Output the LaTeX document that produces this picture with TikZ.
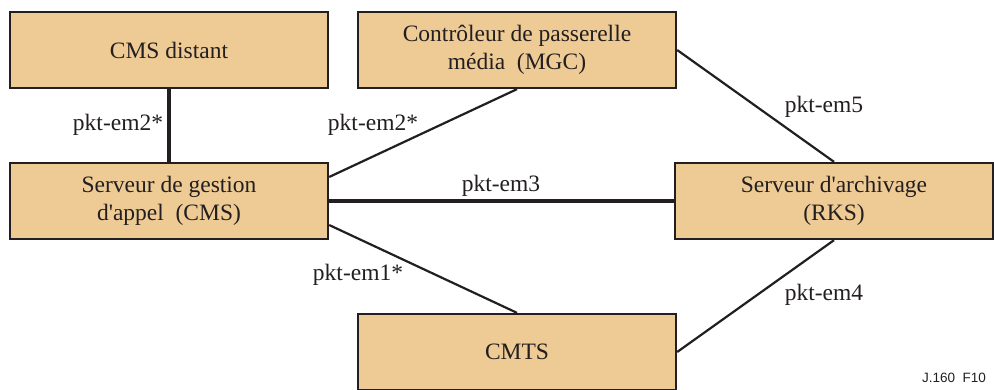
\documentclass[tikz,border=0pt]{standalone}
\usepackage{fontspec}
\setmainfont{Liberation Serif}
\newfontfamily\labsans{Liberation Sans}
\definecolor{boxfill}{RGB}{238,203,148}
\definecolor{ink}{RGB}{35,31,32}
\begin{document}
\begin{tikzpicture}[x=1pt,y=-1pt,
  ent/.style={draw=ink,line width=2.3pt,fill=boxfill,minimum width=318pt,minimum height=76pt,
    align=center,inner sep=0pt,font=\fontsize{23.5}{28}\selectfont,text=ink},
  lab/.style={inner sep=0pt,font=\fontsize{23.5}{28}\selectfont,text=ink},
  thick link/.style={draw=ink,line width=3.2pt},
  thin link/.style={draw=ink,line width=2.2pt}]
\useasboundingbox (0,0) rectangle (994,389);
\clip (0,0) rectangle (994,389);
\node[ent] (cmsd) at (169,50) {CMS distant};
\node[ent] (mgc) at (517,50) {Contrôleur de passerelle\\média\ \ (MGC)};
\node[ent] (cms) at (169,201) {Serveur de gestion\\d\textquotesingle appel\ \ (CMS)};
\node[ent] (rks) at (834,201) {Serveur d\textquotesingle archivage\\(RKS)};
\node[ent] (cmts) at (517,352) {CMTS};
\draw[thick link] (cmsd.south) -- (cms.north);
\draw[thick link] (cms.east) -- (rks.west);
\draw[thin link] ([yshift=24pt]cms.east) -- (mgc.south);
\draw[thin link] ([yshift=-24pt]cms.east) -- (cmts.north);
\draw[thin link] (mgc.east) -- (rks.north);
\draw[thin link] (cmts.east) -- (rks.south);
\node[lab] (l1) at (118,125) {pkt-em2*};
\node[lab] (l2) at (373,125) {pkt-em2*};
\node[lab] (l3) at (501,186) {pkt-em3};
\node[lab] (l4) at (358,275) {pkt-em1*};
\node[lab] (l5) at (824,107) {pkt-em5};
\node[lab] (l6) at (824,295) {pkt-em4};
\node[inner sep=0pt,font=\labsans\fontsize{13.5}{16}\selectfont,text=ink] (fig) at (954,378) {J.160\ \ F10};
\end{tikzpicture}
\end{document}
